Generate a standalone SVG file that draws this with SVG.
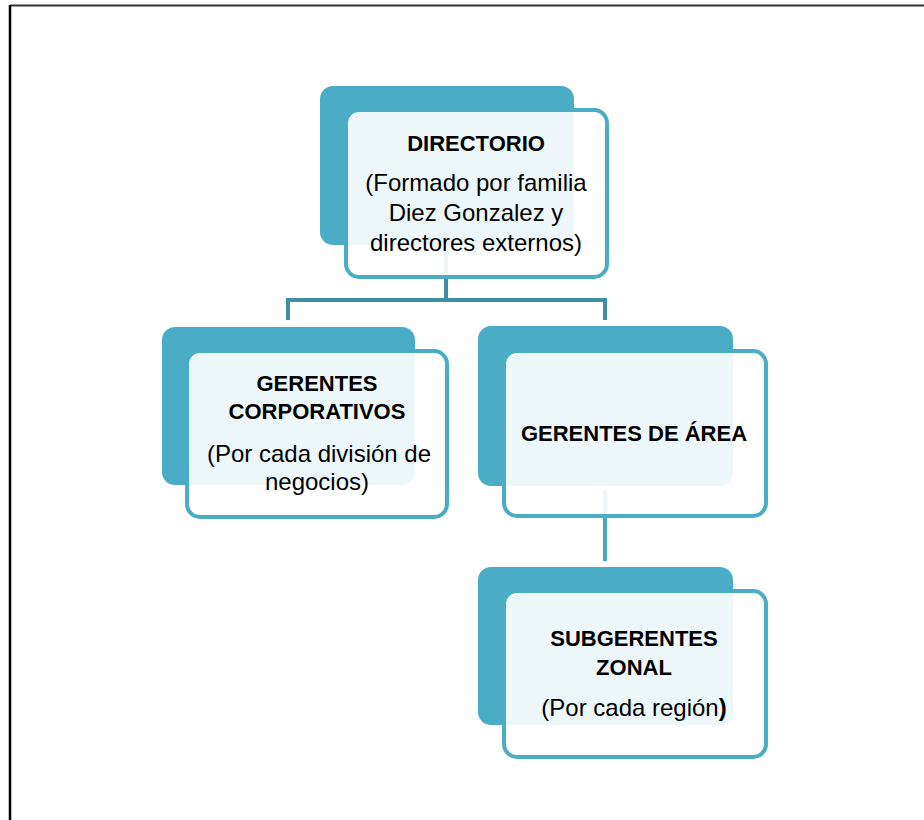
<svg xmlns="http://www.w3.org/2000/svg" width="924" height="820" viewBox="0 0 924 820">
<style>
.back{fill:#4BACC6}
.front{fill:#FFFFFF;fill-opacity:0.9;stroke:#4BACC6;stroke-width:4}
.conn{fill:none;stroke:#3F8FA4;stroke-width:4}
.conn2{fill:none;stroke:#4AA5BE;stroke-width:4}
text{font-family:"Liberation Sans",Arial,sans-serif;fill:#000;text-anchor:middle}
.b{font-weight:bold;font-size:22px}
.r{font-size:24px}
</style>
<rect x="0" y="0" width="924" height="820" fill="#FFFFFF"/>
<g id="frame">
<line x1="10" y1="5.5" x2="924" y2="5.5" stroke="#333" stroke-width="2"/>
<line x1="10" y1="5" x2="10" y2="820" stroke="#000" stroke-width="2.5"/>
</g>
<g id="connectors">
<path class="conn" d="M446 250 V300 M288 320 V300 H605 V320"/>
<path class="conn2" d="M605 490 V561"/>
</g>
<g id="directorio">
<rect class="back" x="320" y="86" width="254" height="159" rx="13"/>
<rect class="front" x="346" y="110" width="261" height="167" rx="13"/>
<text class="b" x="476" y="151">DIRECTORIO</text>
<text class="r" x="476" y="191">(Formado por familia</text>
<text class="r" x="476" y="221">Diez Gonzalez y</text>
<text class="r" x="476" y="251">directores externos)</text>
</g>
<g id="gerentes-corporativos">
<rect class="back" x="162" y="327" width="253" height="158" rx="13"/>
<rect class="front" x="187" y="351" width="260" height="166" rx="13"/>
<text class="b" x="317" y="391">GERENTES</text>
<text class="b" x="317" y="419">CORPORATIVOS</text>
<text class="r" x="319" y="462">(Por cada división de</text>
<text class="r" x="317" y="490">negocios)</text>
</g>
<g id="gerentes-area">
<rect class="back" x="478" y="326" width="255" height="160" rx="13"/>
<rect class="front" x="504" y="351" width="262" height="165" rx="13"/>
<text class="b" x="634" y="441">GERENTES DE ÁREA</text>
</g>
<g id="subgerentes-zonal">
<rect class="back" x="478" y="567" width="255" height="158" rx="13"/>
<rect class="front" x="504" y="591" width="262" height="166" rx="13"/>
<text class="b" x="634" y="646">SUBGERENTES</text>
<text class="b" x="634" y="675">ZONAL</text>
<text class="r" x="634" y="716">(Por cada región<tspan font-weight="bold">)</tspan></text>
</g>
</svg>
